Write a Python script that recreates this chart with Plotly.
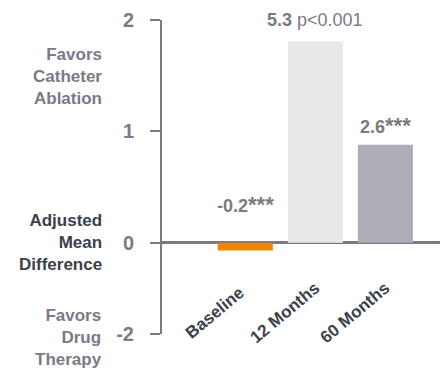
import plotly.graph_objects as go

# Data (bar heights as drawn on the chart's display scale; labels as printed)
categories = ["Baseline", "12 Months", "60 Months"]
bar_heights = [-0.07, 1.81, 0.88]
stars = "<span style='font-size:22px'>***</span>"
value_labels = ["-0.2" + stars, "5.3 <span style='font-weight:normal'>p<0.001</span>", "2.6" + stars]
bar_colors = ["#ef8600", "#e8e7ea", "#aeadb5"]
tick_positions = [-0.82, 0, 1, 2]
tick_labels = ["-2", "0", "1", "2"]

grey = "#7b7a85"
dark = "#3c404b"
font = "Liberation Sans"

fig = go.Figure(go.Bar(
    x=categories,
    y=bar_heights,
    marker=dict(color=bar_colors, line=dict(width=0)),
    width=0.786,
    hoverinfo="skip",
))

annotations = []

# value labels above bars
label_shift = [38, 21, 19]
for cat, h, lab, dy in zip(categories, bar_heights, value_labels, label_shift):
    annotations.append(dict(
        x=cat, y=max(h, 0), xref="x", yref="y", text=lab, showarrow=False,
        xanchor="center", yanchor="middle", yshift=dy,
        font=dict(family=font, size=18, color=grey, weight="bold"),
    ))

# rotated category labels
for cat in categories:
    annotations.append(dict(
        x=cat, y=-0.63, xref="x", yref="y", text=cat, showarrow=False,
        textangle=-40, xanchor="center", yanchor="middle", xshift=-30,
        font=dict(family=font, size=17, color=dark, weight="bold"),
    ))

# left-side axis captions
side_labels = [
    ("Favors<br>Catheter<br>Ablation", 1.49, grey, 0),
    ("Adjusted<br>Mean<br>Difference", 0, dark, 0),
    ("Favors<br>Drug<br>Therapy", -0.82, grey, -3),
]
for txt, yv, col, ys in side_labels:
    annotations.append(dict(
        x=0, y=yv, xref="paper", yref="y", text=txt, showarrow=False,
        xanchor="right", yanchor="middle", align="right", xshift=-58, yshift=ys,
        font=dict(family=font, size=17, color=col, weight="bold"),
    ))

fig.update_layout(
    width=446, height=369,
    margin=dict(l=162, r=6, t=20, b=35),
    paper_bgcolor="white", plot_bgcolor="white",
    showlegend=False,
    annotations=annotations,
    xaxis=dict(
        range=[-1.19, 2.78], showticklabels=False, showgrid=False,
        zeroline=False, showline=False, ticks="",
    ),
    yaxis=dict(
        range=[-0.82, 2.0], tickvals=tick_positions, ticktext=tick_labels,
        ticks="outside", ticklen=10, tickwidth=2, tickcolor=grey,
        showline=True, linecolor=grey, linewidth=2,
        showgrid=False, zeroline=True, zerolinecolor=grey, zerolinewidth=3,
        ticklabelstandoff=12,
        tickfont=dict(family=font, size=20, color=grey, weight="bold"),
    ),
)

fig.write_html(
    "out.html",
    config={"displayModeBar": False},
    post_script="document.body.style.margin='0';",
)
